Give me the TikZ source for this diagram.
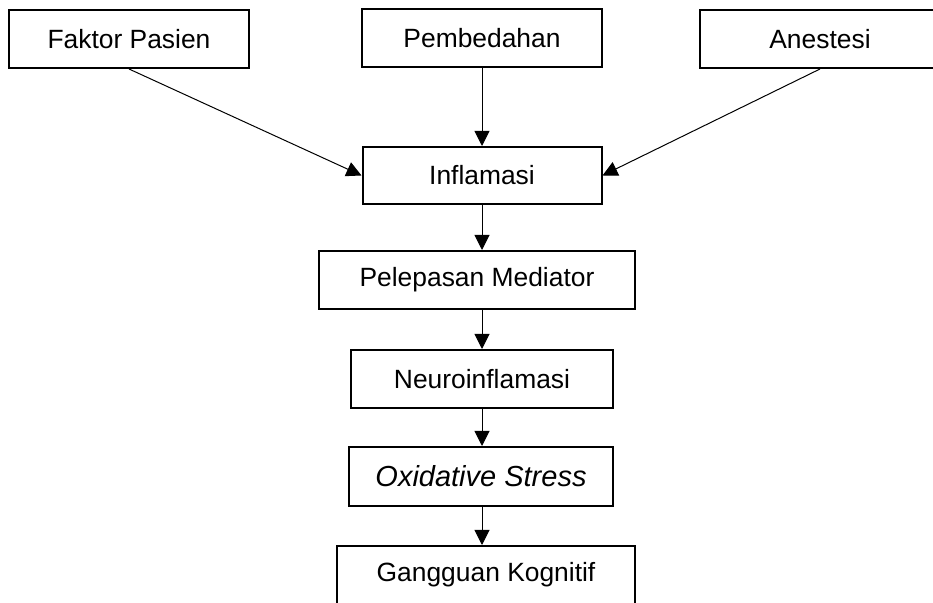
\documentclass[tikz,border=0pt]{standalone}
\usepackage{fontspec}
\setmainfont{Liberation Sans}
\usepackage{xcolor}
\usepackage{tikz}
\usetikzlibrary{arrows.meta, positioning, calc}

\tikzset{
	kotak/.style={draw, line width=1pt, inner sep=0pt, minimum height=29pt, align=center,
		font=\fontsize{13.2}{16}\selectfont},
	panah/.style={-{Triangle[length=7.5pt,width=7.5pt]}, line width=0.5pt}
}

\begin{document}
\begin{tikzpicture}[x=0.5pt,y=-0.5pt]
			
			\useasboundingbox (0,0) rectangle (933,603);
			
			% ---------- Baris atas (tiga faktor) ----------
			\node[kotak, minimum width=120pt] (pasien) at (129,39) {Faktor Pasien};
			\node[kotak, minimum width=120pt] (bedah) at (482,38) {Pembedahan};
			\node[kotak, minimum width=120pt] (anestesi) at (820,39) {Anestesi};
			
			% ---------- Alur tengah ----------
			\node[kotak, minimum width=119.5pt, minimum height=28.5pt] (inflamasi) at (482,175.5) {Inflamasi};
			\node[kotak, minimum width=158pt] (mediator) at (477,280) {Pelepasan Mediator};
			\node[kotak, minimum width=131pt] (neuro) at (482,379) {Neuroinflamasi};
			\node[kotak, minimum width=132pt, minimum height=29.5pt,
				font=\fontsize{14.5}{17}\selectfont\itshape] (oksidatif) at (481,476.5) {Oxidative Stress};
			\node[kotak, minimum width=149pt] (kognitif) at (486,575) {Gangguan Kognitif};
			
			% ---------- Panah ----------
			\draw[panah] (pasien.south) -- (inflamasi.west);
			\draw[panah] (anestesi.south) -- (inflamasi.east);
			\draw[panah] (bedah.south) -- (bedah.south |- inflamasi.north);
			\foreach \a/\b in {inflamasi/mediator, mediator/neuro, neuro/oksidatif, oksidatif/kognitif} {
				\draw[panah] (inflamasi.south |- \a.south) -- (inflamasi.south |- \b.north);
			}
			
		\end{tikzpicture}
\end{document}
